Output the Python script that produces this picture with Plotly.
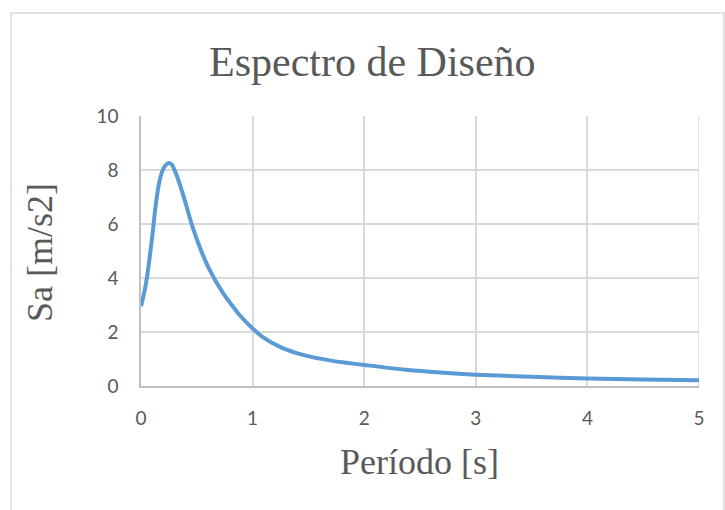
import plotly.graph_objects as go

# Design spectrum: period T [s] vs spectral acceleration Sa [m/s2]
periods = [0.0, 0.02, 0.045, 0.075, 0.104, 0.134, 0.164, 0.19, 0.215, 0.25,
           0.28, 0.305, 0.345, 0.405, 0.45, 0.495, 0.55, 0.615, 0.735, 0.80,
           0.885, 1.0, 1.095, 1.245, 1.395, 1.545, 1.69, 1.84, 2.0, 2.38,
           2.68, 3.0, 3.5, 4.0, 4.5, 5.0]
sa = [2.95, 3.30, 3.81, 4.67, 5.66, 6.77, 7.55, 7.95, 8.15, 8.26,
      8.18, 7.95, 7.50, 6.70, 6.05, 5.50, 4.90, 4.30, 3.44, 3.07,
      2.62, 2.13, 1.80, 1.45, 1.22, 1.06, 0.95, 0.86, 0.78, 0.60,
      0.50, 0.42, 0.34, 0.28, 0.24, 0.21]

x_ticks = [0, 1, 2, 3, 4, 5]
y_ticks = [0, 2, 4, 6, 8, 10]

title_text = "Espectro de Diseño"
x_title = "Período [s]"
y_title = "Sa [m/s2]"

W, H = 725, 510
L, R, T, B = 141, 26, 116, 124
pw, ph = W - L - R, H - T - B


def px_to_paper_x(px):
    return (px - L) / pw


def px_to_paper_y(py):
    return (H - B - py) / ph


fig = go.Figure()
fig.add_trace(go.Scatter(
    x=periods, y=sa, mode="lines",
    line=dict(color="#5b9bd5", width=4, shape="spline", smoothing=0.8),
    hoverinfo="x+y", showlegend=False,
))

grid = "#d9d9d9"
tick_font = dict(family="Lato, 'Open Sans', sans-serif", size=19, color="#595959")
serif = "'Liberation Serif', 'Times New Roman', serif"

fig.update_layout(
    width=W, height=H,
    margin=dict(l=L, r=R, t=T, b=B),
    paper_bgcolor="white", plot_bgcolor="white",
    xaxis=dict(
        range=[0, 5], tickvals=x_ticks, showgrid=True, gridcolor=grid, gridwidth=1.5,
        zeroline=False, showline=True, linecolor="#bfbfbf", linewidth=1.5,
        ticks="outside", ticklen=0, tickfont=tick_font, ticklabelstandoff=14,
        mirror=False, fixedrange=True,
    ),
    yaxis=dict(
        range=[0, 10], tickvals=y_ticks, showgrid=True, gridcolor=grid, gridwidth=1.5,
        zeroline=False, showline=True, linecolor="#bfbfbf", linewidth=1.5,
        ticks="outside", ticklen=0, tickfont=tick_font, ticklabelstandoff=17,
        fixedrange=True,
    ),
    shapes=[
        # outer chart-area frame
        dict(type="rect", xref="paper", yref="paper",
             x0=px_to_paper_x(11), x1=px_to_paper_x(724),
             y0=px_to_paper_y(514), y1=px_to_paper_y(13),
             line=dict(color="#d9d9d9", width=1.5), fillcolor="rgba(0,0,0,0)",
             layer="below"),
        # right edge of plot area
        dict(type="line", xref="x", yref="y", x0=5, x1=5, y0=0, y1=10,
             line=dict(color=grid, width=1.5), layer="below"),
    ],
    annotations=[
        dict(text=title_text, xref="paper", yref="paper",
             x=px_to_paper_x(372), y=px_to_paper_y(62), xanchor="center", yanchor="middle",
             showarrow=False, font=dict(family=serif, size=42, color="#595959")),
        dict(text=x_title, xref="paper", yref="paper",
             x=px_to_paper_x(419), y=px_to_paper_y(462), xanchor="center", yanchor="middle",
             showarrow=False, font=dict(family=serif, size=36, color="#595959")),
        dict(text=y_title, xref="paper", yref="paper", textangle=-90,
             x=px_to_paper_x(40), y=px_to_paper_y(253), xanchor="center", yanchor="middle",
             showarrow=False, font=dict(family=serif, size=36, color="#595959")),
    ],
)

fig.write_html("out.html")
